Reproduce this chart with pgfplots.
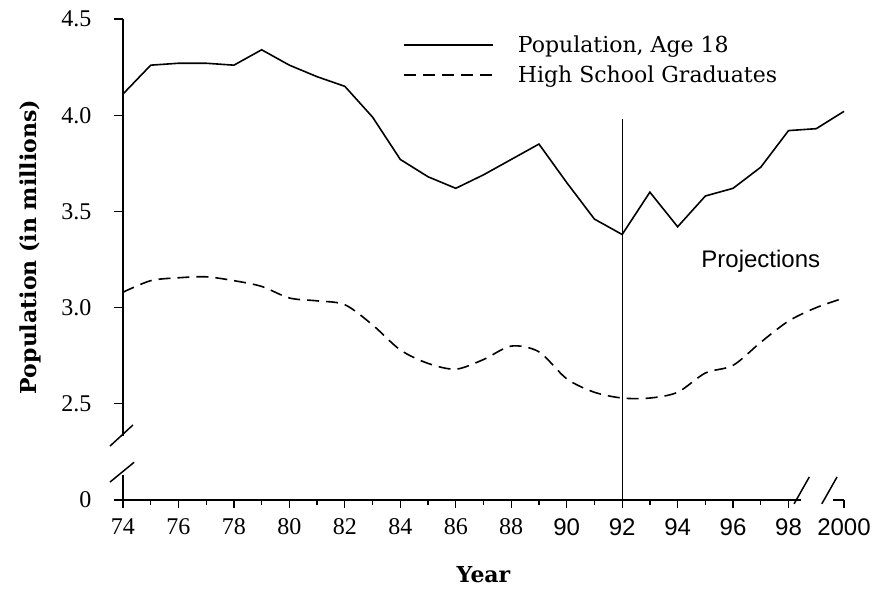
\documentclass[border=0pt]{standalone}
\usepackage{pgfplots}
\pgfplotsset{compat=1.18}
\usepackage{fontspec}
\setmainfont{DejaVu Serif}
\newfontfamily\serifnum{Liberation Serif}
\newfontfamily\sansnum{Liberation Sans}
\begin{document}
\begin{tikzpicture}
\begin{axis}[
  scale only axis,
  width=721pt, height=481pt,
  xmin=74, xmax=100, ymin=2, ymax=4.5,
  axis line style={draw=none},
  clip=false,
  xtick={74,76,78,80,82,84,86,88,90,92,94,96,98,100},
  xticklabels={74,76,78,80,82,84,86,88,{\sansnum 90},{\sansnum 92},{\sansnum 94},{\sansnum 96},{\sansnum 98},{\sansnum 2000}},
  minor xtick={75,77,79,81,83,85,87,89,91,93,95,97},
  ytick={2,2.5,3,3.5,4,4.5},
  yticklabels={0,2.5,3.0,3.5,4.0,4.5},
  tick align=outside,
  xtick pos=bottom, ytick pos=left,
  major tick length=8pt, minor tick length=5pt,
  tick style={black, line width=1.3pt},
  ticklabel style={font=\serifnum\fontsize{24}{26}\selectfont},
  xticklabel style={yshift=-7pt},
  yticklabel style={xshift=-20pt},
  xlabel={Year}, ylabel={Population (in millions)},
  every axis x label/.style={at={(axis description cs:0.5,-0.155)}, anchor=center,
    font=\bfseries\fontsize{22}{24}\selectfont},
  every axis y label/.style={at={(axis description cs:-0.128,0.526)}, rotate=90, anchor=center,
    font=\bfseries\fontsize{22}{24}\selectfont},
  legend style={at={(axis cs:84.1,4.425)}, anchor=north west, draw=none, fill=none,
    font=\fontsize{22}{26}\selectfont, inner sep=0pt, row sep=8pt},
  legend cell align=left,
  legend image code/.code={\draw[#1] (0pt,0pt) -- (89pt,0pt);},
]
\addplot[black, line width=1.6pt] coordinates {
(74,4.11) (75,4.26) (76,4.27) (77,4.27) (78,4.26) (79,4.34) (80,4.26) (81,4.20)
(82,4.15) (83,3.99) (84,3.77) (85,3.68) (86,3.62) (87,3.69) (88,3.77) (89,3.85)
(90,3.65) (91,3.46) (92,3.38) (93,3.60) (94,3.42) (95,3.58) (96,3.62) (97,3.73)
(98,3.92) (99,3.93) (100,4.02)};
\addlegendentry{\hspace{22pt}Population, Age 18}
\addplot[black, line width=1.6pt, smooth, dash pattern=on 12pt off 7pt] coordinates {
(74,3.08) (75,3.14) (76,3.155) (77,3.16) (78,3.14) (79,3.11) (80,3.05) (81,3.035)
(82,3.015) (83,2.91) (84,2.78) (85,2.71) (86,2.68) (87,2.73) (88,2.80) (89,2.77)
(90,2.63) (91,2.56) (92,2.53) (93,2.53) (94,2.56) (95,2.66) (96,2.70) (97,2.82)
(98,2.93) (99,3.00) (100,3.05)};
\addlegendentry{\hspace{22pt}High School Graduates}
\addplot[black, line width=1.1pt, forget plot] coordinates {(92,2) (92,3.98)};
\node[font=\sansnum\fontsize{24}{26}\selectfont] at (axis cs:97.0,3.24) {Projections};
% axis lines with breaks
\draw[line width=1.5pt] (axis cs:74,4.5) -- (axis cs:74,2.335);
\draw[line width=1.5pt] (axis cs:74,2.13) -- (axis cs:74,2);
\draw[line width=1.5pt] (axis cs:73.53,2.28) -- (axis cs:74.36,2.39);
\draw[line width=1.5pt] (axis cs:73.53,2.093) -- (axis cs:74.4,2.196);
\draw[line width=1.8pt] (axis cs:74,2) -- (axis cs:98.45,2);
\draw[line width=1.5pt] (axis cs:98.2,1.98) -- (axis cs:98.75,2.12);
\draw[line width=1.5pt] (axis cs:99.2,1.98) -- (axis cs:99.75,2.12);
\draw[line width=1.5pt] (axis cs:99.6,2.0) -- (axis cs:100,2.0);
% y tick marks
\draw[line width=1.3pt] (axis cs:74,2) -- ++(-9pt,0pt);
\draw[line width=1.3pt] (axis cs:74,2.5) -- ++(-9pt,0pt);
\draw[line width=1.3pt] (axis cs:74,3) -- ++(-9pt,0pt);
\draw[line width=1.3pt] (axis cs:74,3.5) -- ++(-9pt,0pt);
\draw[line width=1.3pt] (axis cs:74,4) -- ++(-9pt,0pt);
\draw[line width=1.3pt] (axis cs:74,4.5) -- ++(-9pt,0pt);
\coordinate (bl) at (axis cs:74,2);
\end{axis}
\pgfresetboundingbox
\path[use as bounding box] ([shift={(-123pt,-89pt)}]bl) rectangle ([shift={(752pt,500pt)}]bl);
\end{tikzpicture}
\end{document}
